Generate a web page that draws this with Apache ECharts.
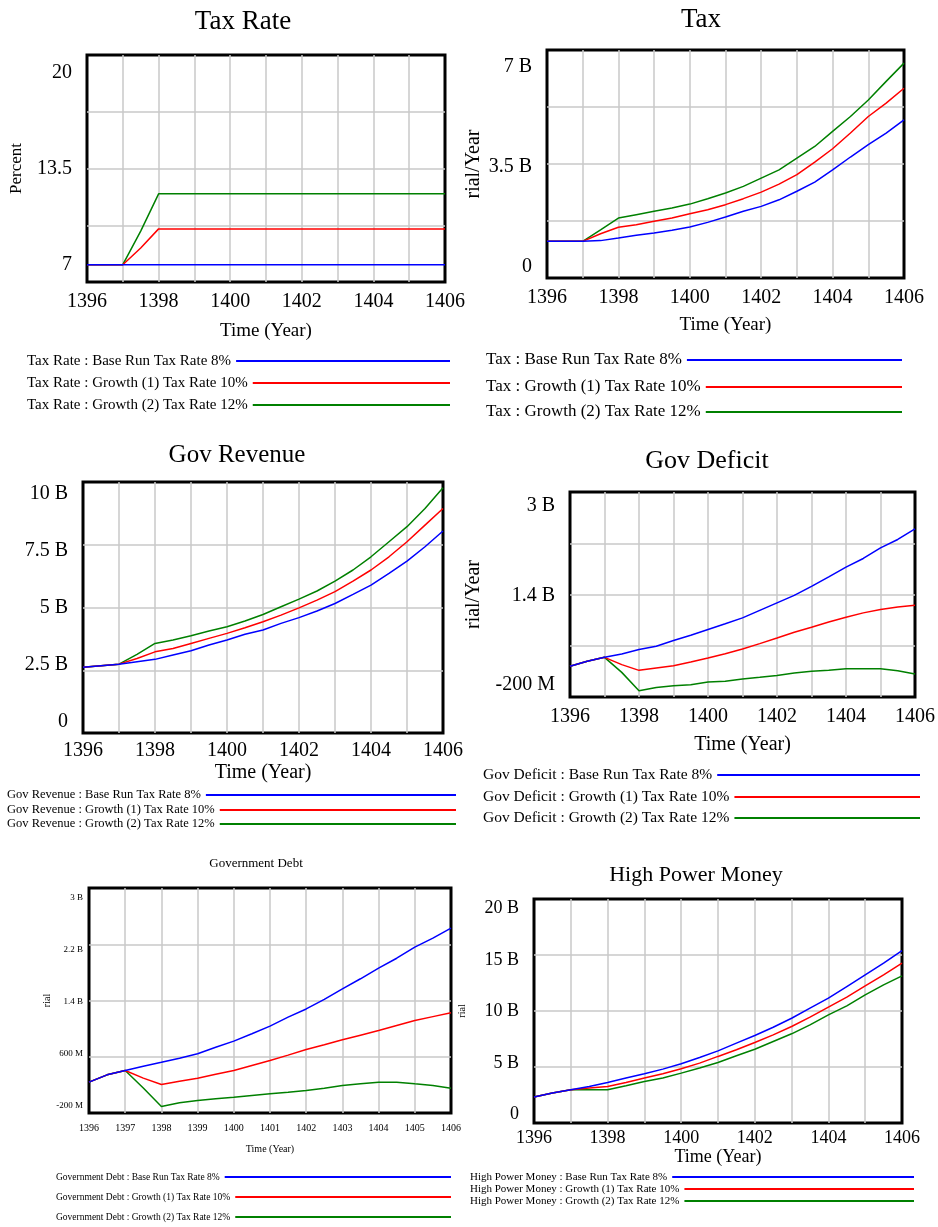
<!DOCTYPE html>
<html>
<head>
<meta charset="utf-8">
<title>Tax scenarios</title>
<script src="https://cdn.jsdelivr.net/npm/echarts@6/dist/echarts.min.js"></script>
<style>
  html, body { margin: 0; padding: 0; background: #fff; }
  #chart { width: 938px; height: 1227px; }
</style>
</head>
<body>
<div id="chart"></div>
<script>
// time axis (half-year steps)
const years = [1396, 1396.5, 1397, 1397.5, 1398, 1398.5, 1399, 1399.5, 1400, 1400.5, 1401,
               1401.5, 1402, 1402.5, 1403, 1403.5, 1404, 1404.5, 1405, 1405.5, 1406];

const runs = ['Base Run Tax Rate 8%', 'Growth (1) Tax Rate 10%', 'Growth (2) Tax Rate 12%'];
const runColors = ['#0000ff', '#ff0000', '#008000'];

// Tax Rate (Percent)
const taxRateBase = [7, 7, 7, 7, 7, 7, 7, 7, 7, 7, 7, 7, 7, 7, 7, 7, 7, 7, 7, 7, 7];
const taxRateG1 = [7, 7, 7, 8.13, 9.42, 9.42, 9.42, 9.42, 9.42, 9.42, 9.42, 9.42, 9.42, 9.42, 9.42, 9.42, 9.42, 9.42, 9.42, 9.42, 9.42];
const taxRateG2 = [7, 7, 7, 9.27, 11.79, 11.79, 11.79, 11.79, 11.79, 11.79, 11.79, 11.79, 11.79, 11.79, 11.79, 11.79, 11.79, 11.79, 11.79, 11.79, 11.79];

// Tax (billion rial/Year)
const taxBase = [0.875, 0.875, 0.875, 0.9, 0.99, 1.085, 1.17, 1.26, 1.38, 1.54, 1.73, 1.93, 2.10, 2.33, 2.63, 2.95, 3.38, 3.83, 4.26, 4.67, 5.13];
const taxG1 = [0.875, 0.875, 0.875, 1.14, 1.37, 1.46, 1.575, 1.69, 1.84, 1.98, 2.16, 2.37, 2.60, 2.88, 3.21, 3.65, 4.12, 4.67, 5.25, 5.72, 6.24];
const taxG2 = [0.875, 0.875, 0.875, 1.28, 1.69, 1.81, 1.93, 2.04, 2.18, 2.37, 2.57, 2.80, 3.09, 3.38, 3.79, 4.20, 4.73, 5.25, 5.83, 6.48, 7.12];

// Gov Revenue (billion)
const revBase = [2.40, 2.47, 2.54, 2.65, 2.75, 2.94, 3.13, 3.38, 3.60, 3.85, 4.04, 4.33, 4.58, 4.87, 5.20, 5.60, 6.01, 6.52, 7.06, 7.69, 8.38];
const revG1 = [2.40, 2.47, 2.54, 2.79, 3.08, 3.23, 3.45, 3.67, 3.89, 4.14, 4.40, 4.69, 5.01, 5.35, 5.72, 6.18, 6.67, 7.25, 7.91, 8.64, 9.37];
const revG2 = [2.40, 2.47, 2.54, 2.97, 3.45, 3.60, 3.79, 3.99, 4.18, 4.43, 4.72, 5.06, 5.39, 5.75, 6.18, 6.67, 7.25, 7.91, 8.57, 9.37, 10.28];

// Gov Deficit (billion rial/Year)
const defBase = [0.13, 0.22, 0.29, 0.35, 0.43, 0.49, 0.59, 0.685, 0.787, 0.89, 0.996, 1.13, 1.265, 1.40, 1.56, 1.73, 1.905, 2.06, 2.25, 2.40, 2.59];
const defG1 = [0.13, 0.22, 0.29, 0.16, 0.057, 0.10, 0.14, 0.207, 0.28, 0.356, 0.44, 0.536, 0.637, 0.74, 0.83, 0.924, 1.008, 1.086, 1.146, 1.19, 1.223];
const defG2 = [0.13, 0.22, 0.29, 0.021, -0.308, -0.248, -0.218, -0.2, -0.152, -0.14, -0.098, -0.068, -0.033, 0.009, 0.039, 0.057, 0.087, 0.087, 0.087, 0.051, -0.009];

// Government Debt (billion rial)
const debtBase = [0.164, 0.277, 0.344, 0.41, 0.47, 0.533, 0.60, 0.70, 0.795, 0.908, 1.026, 1.164, 1.29, 1.436, 1.60, 1.754, 1.918, 2.07, 2.24, 2.38, 2.533];
const debtG1 = [0.164, 0.277, 0.344, 0.226, 0.128, 0.177, 0.226, 0.285, 0.344, 0.42, 0.497, 0.58, 0.667, 0.74, 0.815, 0.887, 0.959, 1.036, 1.113, 1.172, 1.231];
const debtG2 = [0.164, 0.277, 0.344, 0.075, -0.21, -0.154, -0.118, -0.092, -0.067, -0.041, -0.015, 0.01, 0.036, 0.072, 0.113, 0.138, 0.164, 0.164, 0.138, 0.113, 0.072];

// High Power Money (billion rial)
const hpmBase = [1.71, 2.10, 2.42, 2.74, 3.13, 3.55, 3.97, 4.42, 4.94, 5.55, 6.19, 6.94, 7.68, 8.48, 9.35, 10.32, 11.29, 12.42, 13.55, 14.68, 15.90];
const hpmG1 = [1.71, 2.10, 2.42, 2.58, 2.74, 3.13, 3.55, 3.97, 4.45, 5.0, 5.65, 6.29, 7.0, 7.74, 8.55, 9.45, 10.42, 11.39, 12.48, 13.55, 14.68];
const hpmG2 = [1.71, 2.10, 2.42, 2.42, 2.42, 2.81, 3.23, 3.55, 4.03, 4.52, 5.06, 5.71, 6.35, 7.10, 7.84, 8.71, 9.68, 10.55, 11.61, 12.58, 13.45];

// y tick labels and axis ranges
const taxRateTicks = [7, 13.5, 20];
const taxTicks = [0, 3.5, 7];
const revTicks = [0, 2.5, 5, 7.5, 10];
const defTicks = [-0.2, 1.4, 3];
const debtTicks = [-0.2, 0.6, 1.4, 2.2, 3];
const hpmTicks = [0, 5, 10, 15, 20];

const panels = [
  { title: 'Tax Rate', unit: '', yName: 'Percent', series: [taxRateBase, taxRateG1, taxRateG2], ticks: taxRateTicks, range: [5.83, 21.17], xStep: 2 },
  { title: 'Tax', unit: 'B', yName: 'rial/Year', series: [taxBase, taxG1, taxG2], ticks: taxTicks, range: [-0.41, 7.58], xStep: 2 },
  { title: 'Gov Revenue', unit: 'B', yName: '', series: [revBase, revG1, revG2], ticks: revTicks, range: [-0.48, 10.53], xStep: 2 },
  { title: 'Gov Deficit', unit: 'B', yName: 'rial/Year', series: [defBase, defG1, defG2], ticks: defTicks, range: [-0.42, 3.25], xStep: 2 },
  { title: 'Government Debt', unit: 'B', yName: 'rial', series: [debtBase, debtG1, debtG2], ticks: debtTicks, range: [-0.31, 3.15], xStep: 1 },
  { title: 'High Power Money', unit: 'B', yName: 'rial', series: [hpmBase, hpmG1, hpmG2], ticks: hpmTicks, range: [-0.8, 20.9], xStep: 2 }
];

// layout of each panel (pixels)
const layouts = [
  { box: [87, 55, 445, 282], title: [243, 22, 27], lab: 20, xLab: 20, yMargin: 15, xMargin: 10, xName: [19, 40], yNameCfg: [17, 62],
    legend: { left: 27, rows: [361, 383, 405], end: 450, size: 15 } },
  { box: [547, 50, 904, 278], title: [701, 20, 27], lab: 20, xLab: 20, yMargin: 15, xMargin: 10, xName: [19, 38], yNameCfg: [20, 63],
    legend: { left: 486, rows: [360, 387, 412], end: 902, size: 17 } },
  { box: [83, 482, 443, 733], title: [237, 455, 25], lab: 20, xLab: 20, yMargin: 15, xMargin: 8, xName: [20, 30], yNameCfg: [20, 60],
    legend: { left: 7, rows: [795, 810, 824], end: 456, size: 12.5 } },
  { box: [570, 492, 916, 697], title: [707, 461, 26], lab: 20, xLab: 20, yMargin: 15, xMargin: 10, xName: [20, 38], yNameCfg: [20, 86],
    legend: { left: 483, rows: [775, 797, 818], end: 920, size: 15.5 } },
  { box: [89, 888, 451, 1113], title: [256, 864, 13], lab: 9, xLab: 10, yMargin: 6, xMargin: 10, xName: [10, 31], yNameCfg: [10, 34],
    legend: { left: 56, rows: [1177, 1197, 1217], end: 451, size: 9.5 } },
  { box: [534, 899, 902, 1123], title: [696, 875, 22], lab: 18, xLab: 18, yMargin: 15, xMargin: 6, xName: [18, 25], yNameCfg: [10, 67],
    legend: { left: 470, rows: [1177, 1189, 1201], end: 914, size: 11 } }
];

const FONT = "'Liberation Serif', 'Times New Roman', serif";
const GRID_LINE = { color: '#c8c8c8', width: 1.5 };

const measureCtx = document.createElement('canvas').getContext('2d');
const textWidth = (str, size) => {
  measureCtx.font = size + 'px ' + FONT;
  return measureCtx.measureText(str).width;
};

const fmtValue = (unit) => (v) => {
  if (!unit) return String(v);
  if (v === 0) return '0';
  if (Math.abs(v) < 1) return Math.round(v * 1000) + ' M';
  return v + ' ' + unit;
};

const option = {
  animation: false,
  backgroundColor: '#fff',
  title: [], grid: [], xAxis: [], yAxis: [], legend: [], series: []
};

panels.forEach((p, i) => {
  const L = layouts[i];
  const [x0, y0, x1, y1] = L.box;
  const [tx, ty, ts] = L.title;

  option.title.push({
    text: p.title,
    left: tx - textWidth(p.title, ts) / 2,
    top: ty - ts / 2,
    padding: 0,
    textStyle: { fontFamily: FONT, fontSize: ts, fontWeight: 'normal', color: '#000', lineHeight: ts }
  });

  option.grid.push({
    left: x0, top: y0, width: x1 - x0, height: y1 - y0,
    show: true, borderColor: '#000', borderWidth: 3
  });

  option.xAxis.push({
    gridIndex: i, type: 'value', min: 1396, max: 1406, interval: 1,
    axisLine: { show: false }, axisTick: { show: false },
    splitLine: { show: true, showMinLine: false, showMaxLine: false, lineStyle: GRID_LINE },
    axisLabel: {
      margin: L.xMargin, fontFamily: FONT, fontSize: L.xLab, color: '#000',
      formatter: (v) => ((v - 1396) % p.xStep === 0 ? String(v) : '')
    },
    name: 'Time (Year)', nameLocation: 'middle', nameGap: L.xName[1],
    nameTextStyle: { fontFamily: FONT, fontSize: L.xName[0], color: '#000' }
  });

  // value axis with the labels
  option.yAxis.push({
    gridIndex: i, type: 'value', min: p.range[0], max: p.range[1],
    axisLine: { show: false }, axisTick: { show: false }, splitLine: { show: false },
    axisLabel: {
      customValues: p.ticks, margin: L.yMargin, fontFamily: FONT, fontSize: L.lab, color: '#000',
      formatter: fmtValue(p.unit)
    },
    name: p.yName, nameLocation: 'middle', nameGap: L.yNameCfg[1],
    nameTextStyle: { fontFamily: FONT, fontSize: L.yNameCfg[0], color: '#000' }
  });
  // helper axis: quarter grid lines
  option.yAxis.push({
    gridIndex: i, type: 'value', position: 'right', min: 0, max: 4, interval: 1,
    axisLine: { show: false }, axisTick: { show: false }, axisLabel: { show: false },
    splitLine: { show: true, showMinLine: false, showMaxLine: false, lineStyle: GRID_LINE }
  });

  // base run on top
  for (let j = 2; j >= 0; j--) {
    option.series.push({
      type: 'line',
      name: p.title + ' : ' + runs[j],
      xAxisIndex: i, yAxisIndex: 2 * i,
      data: years.map((t, k) => [t, p.series[j][k]]),
      showSymbol: false, symbol: 'none',
      lineStyle: { width: 1.5, color: runColors[j] },
      itemStyle: { color: runColors[j] }
    });
  }

  // one legend row per run: text, then a line ending at a fixed x
  runs.forEach((r, j) => {
    const name = p.title + ' : ' + r;
    const lg = L.legend;
    const lh = lg.size + 2;
    option.legend.push({
      data: [name],
      left: lg.left, top: lg.rows[j] - lh / 2,
      padding: 0, align: 'right', icon: 'rect',
      itemWidth: lg.end - (lg.left + textWidth(name, lg.size) + 5), itemHeight: 2,
      selectedMode: false,
      textStyle: { fontFamily: FONT, fontSize: lg.size, color: '#000', lineHeight: lh }
    });
  });
});

const chart = echarts.init(document.getElementById('chart'), null, { renderer: 'canvas' });
chart.setOption(option);
</script>
</body>
</html>
